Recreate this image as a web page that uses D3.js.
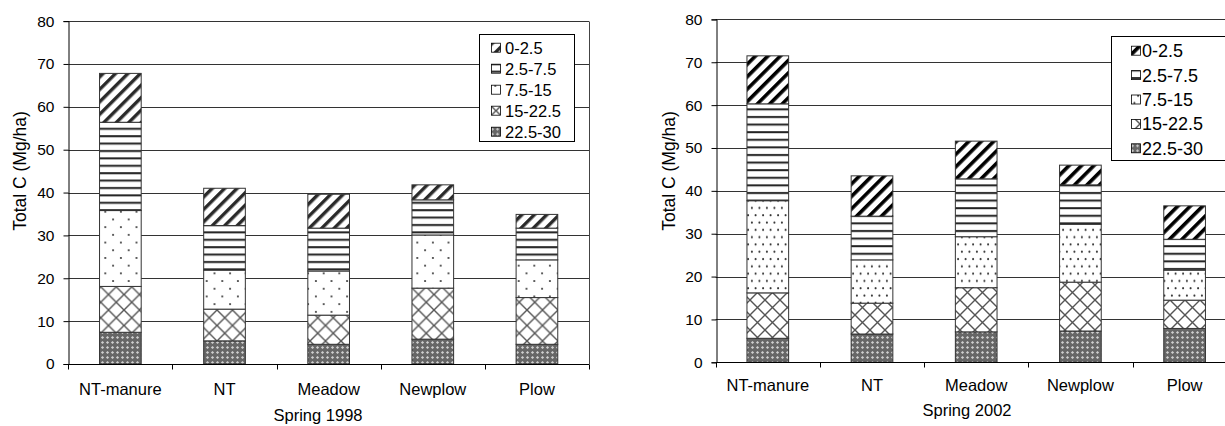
<!DOCTYPE html>
<html><head><meta charset="utf-8">
<script src="https://cdn.jsdelivr.net/npm/d3@7"></script>
<style>
body{margin:0;background:#fff;overflow:hidden}
svg{display:block}
text{font-family:"Liberation Sans",Arial,sans-serif;fill:#000}
</style>
</head><body>
<svg id="c" width="1225" height="426"></svg>
<script>
// ---------- DATA ----------
const categories = ["NT-manure", "NT", "Meadow", "Newplow", "Plow"];
const depths = ["0-2.5", "2.5-7.5", "7.5-15", "15-22.5", "22.5-30"]; // legend order (top of stack first)
const yTicks = [0, 10, 20, 30, 40, 50, 60, 70, 80];

// Spring 1998, total C (Mg/ha) in each depth layer (cm)
const c1998_0_2_5   = [11.4, 8.7, 7.9, 3.5, 3.2];
const c1998_2_5_7_5 = [20.6, 10.4, 10.0, 8.2, 7.4];
const c1998_7_5_15  = [17.7, 9.1, 10.3, 12.4, 8.8];
const c1998_15_22_5 = [10.7, 7.4, 6.8, 11.9, 10.9];
const c1998_22_5_30 = [7.4, 5.4, 4.6, 5.8, 4.6];

// Spring 2002
const c2002_0_2_5   = [11.2, 9.4, 8.8, 4.6, 7.8];
const c2002_2_5_7_5 = [22.6, 10.2, 13.5, 9.2, 7.2];
const c2002_7_5_15  = [21.5, 10.1, 11.9, 13.5, 7.0];
const c2002_15_22_5 = [10.6, 7.2, 10.3, 11.4, 6.6];
const c2002_22_5_30 = [5.6, 6.6, 7.1, 7.3, 7.9];

const xTitle1998 = "Spring 1998";
const xTitle2002 = "Spring 2002";
const yTitle = "Total C (Mg/ha)";

// ---------- BUILD ----------
function rowsFrom(layers) {
  return categories.map((c, i) => {
    const r = { cat: c };
    depths.forEach((d, k) => { r[d] = layers[k][i]; });
    return r;
  });
}
const rows1998 = rowsFrom([c1998_0_2_5, c1998_2_5_7_5, c1998_7_5_15, c1998_15_22_5, c1998_22_5_30]);
const rows2002 = rowsFrom([c2002_0_2_5, c2002_2_5_7_5, c2002_7_5_15, c2002_15_22_5, c2002_22_5_30]);

const svg = d3.select("#c");
const defs = svg.append("defs");

function makePatterns(sfx, o) {
  // 0-2.5 diagonal stripes
  let p = defs.append("pattern").attr("id", "p0" + sfx).attr("patternUnits", "userSpaceOnUse")
    .attr("width", o.diagP).attr("height", o.diagP).attr("patternTransform", "rotate(45)");
  p.append("rect").attr("width", o.diagP).attr("height", o.diagP).attr("fill", "#fff");
  p.append("rect").attr("width", o.diagW).attr("height", o.diagP).attr("fill", o.diagC);
  // 2.5-7.5 horizontal lines
  p = defs.append("pattern").attr("id", "p1" + sfx).attr("patternUnits", "userSpaceOnUse")
    .attr("width", 10).attr("height", o.horP);
  p.append("rect").attr("width", 10).attr("height", o.horP).attr("fill", "#fff");
  p.append("rect").attr("y", 2).attr("width", 10).attr("height", o.horW).attr("fill", "#222");
  // 7.5-15 dots
  p = defs.append("pattern").attr("id", "p2" + sfx).attr("patternUnits", "userSpaceOnUse")
    .attr("width", o.dotW).attr("height", o.dotH);
  p.append("rect").attr("width", o.dotW).attr("height", o.dotH).attr("fill", "#fff");
  o.dots.forEach(([x, y]) => p.append("circle").attr("cx", x).attr("cy", y).attr("r", 1.05).attr("fill", "#333"));
  // 15-22.5 diagonal crosshatch
  const s = o.crossP;
  p = defs.append("pattern").attr("id", "p3" + sfx).attr("patternUnits", "userSpaceOnUse")
    .attr("width", s).attr("height", s);
  p.append("rect").attr("width", s).attr("height", s).attr("fill", "#fff");
  p.append("path").attr("d", `M0,0L${s},${s}M${s},0L0,${s}`).attr("stroke", "#555").attr("stroke-width", 1.4);
  // 22.5-30 dense dark check
  p = defs.append("pattern").attr("id", "p4" + sfx).attr("patternUnits", "userSpaceOnUse")
    .attr("width", 5).attr("height", 5);
  p.append("rect").attr("width", 5).attr("height", 5).attr("fill", "#666");
  p.append("path").attr("d", "M2.5,0.9L4.1,2.5L2.5,4.1L0.9,2.5Z").attr("fill", "#cfcfcf");
}
makePatterns("L", { diagP: 8.8, diagW: 3.4, diagC: "#2a2a2a", horP: 7.4, horW: 2, dotW: 15.6, dotH: 15.4,
  dots: [[3.9, 3.85], [11.7, 11.55]], crossP: 15.5 });
makePatterns("R", { diagP: 8.8, diagW: 3.6, diagC: "#000", horP: 7.6, horW: 2, dotW: 15, dotH: 14.6,
  dots: [[1.9, 3.6], [9.4, 3.6], [5.6, 10.9], [13.1, 10.9]], crossP: 15 });

function drawChart(cfg) {
  const g = svg.append("g");
  const x = d3.scaleBand().domain(categories).range([cfg.left, cfg.right]).paddingInner(0.6).paddingOuter(0.3);
  const y = d3.scaleLinear().domain([0, 80]).range([cfg.bottom, cfg.top]);
  const stackKeys = depths.slice().reverse();
  const series = d3.stack().keys(stackKeys)(cfg.rows);

  // gridlines
  g.append("g").selectAll("line").data(yTicks.filter(t => t > 0)).join("line")
    .attr("x1", cfg.left).attr("x2", cfg.right)
    .attr("y1", d => Math.round(y(d)) + 0.5).attr("y2", d => Math.round(y(d)) + 0.5)
    .attr("stroke", "#333").attr("stroke-width", 1);
  // plot border right
  g.append("line").attr("x1", Math.round(cfg.right) + 0.5).attr("x2", Math.round(cfg.right) + 0.5)
    .attr("y1", Math.round(y(80)) + 0.5).attr("y2", Math.round(y(0)) + 0.5).attr("stroke", "#444");

  // bars
  series.forEach(s => {
    const idx = depths.indexOf(s.key);
    g.append("g").selectAll("rect").data(s).join("rect")
      .attr("x", d => x(d.data.cat)).attr("width", x.bandwidth())
      .attr("y", d => y(d[1])).attr("height", d => y(d[0]) - y(d[1]))
      .attr("fill", `url(#p${idx}${cfg.sfx})`).attr("stroke", "#333").attr("stroke-width", 1);
  });

  // y axis
  const ya = d3.axisLeft(y).tickValues(yTicks).tickSize(5).tickPadding(9);
  const yg = g.append("g").attr("transform", `translate(${Math.round(cfg.left) + 0.5},0)`).call(ya);
  yg.select(".domain").attr("stroke", "#000");
  yg.selectAll(".tick line").attr("stroke", "#000");
  yg.selectAll(".tick text").attr("font-size", cfg.tickFont).attr("font-family", "Liberation Sans, Arial, sans-serif").attr("fill", "#000");

  // x axis
  const xa = d3.axisBottom(x).tickSize(0).tickPadding(cfg.xLabPad);
  const xg = g.append("g").attr("transform", `translate(0,${Math.round(cfg.bottom) + 0.5})`).call(xa);
  xg.select(".domain").attr("stroke", "#000").attr("d", `M${cfg.left},0H${cfg.right}`);
  xg.selectAll(".tick text").attr("font-size", cfg.xFont).attr("font-family", "Liberation Sans, Arial, sans-serif").attr("fill", "#000");
  // category separator ticks
  const step = x.step();
  const sep = d3.range(categories.length + 1).map(i => cfg.left + i * step);
  xg.append("g").selectAll("line").data(sep).join("line")
    .attr("x1", d => Math.round(d) + 0.5).attr("x2", d => Math.round(d) + 0.5)
    .attr("y1", 0).attr("y2", 5).attr("stroke", "#000");

  // titles
  g.append("text").attr("x", cfg.xTitleX).attr("y", cfg.xTitleY).attr("text-anchor", "middle")
    .attr("font-size", cfg.titleFont).text(cfg.xTitle);
  g.append("text").attr("transform", `translate(${cfg.yTitleX},${cfg.yTitleY}) rotate(-90)`)
    .attr("text-anchor", "middle").attr("font-size", cfg.yTitleFont).text(yTitle);

  // legend
  const L = cfg.legend;
  g.append("rect").attr("x", L.x + 0.5).attr("y", L.y + 0.5).attr("width", L.w).attr("height", L.h)
    .attr("fill", "#fff").attr("stroke", "#000");
  const items = g.append("g").selectAll("g").data(depths).join("g")
    .attr("transform", (d, i) => `translate(0,${L.first + i * L.gap})`);
  items.append("rect").attr("x", L.sx + 0.5).attr("y", -L.ss / 2).attr("width", L.ss).attr("height", L.ss)
    .attr("fill", (d, i) => `url(#p${i}${cfg.sfx})`).attr("stroke", "#000").attr("stroke-width", 0.8);
  items.append("text").attr("x", L.tx).attr("dy", "0.36em").attr("font-size", L.font).text(d => d);
}

drawChart({ rows: rows1998, sfx: "L", left: 68.3, right: 589, top: 21.1, bottom: 364,
  tickFont: 15.5, xFont: 16.5, titleFont: 16.5, yTitleFont: 17.5, xLabPad: 19, xTitle: xTitle1998, xTitleX: 318, xTitleY: 421,
  yTitleX: 26, yTitleY: 171,
  legend: { x: 479, y: 34, w: 95, h: 107, first: 47.7, gap: 21, sx: 491, ss: 9, tx: 505, font: 16.5 } });
drawChart({ rows: rows2002, sfx: "R", left: 715.7, right: 1236.7, top: 19.4, bottom: 362.3,
  tickFont: 15.5, xFont: 16.5, titleFont: 16.5, yTitleFont: 17.5, xLabPad: 17, xTitle: xTitle2002, xTitleX: 967, xTitleY: 416,
  yTitleX: 675, yTitleY: 171,
  legend: { x: 1111, y: 36, w: 130, h: 124, first: 50.7, gap: 24.4, sx: 1131, ss: 9, tx: 1142, font: 18 } });
</script>
</body></html>
